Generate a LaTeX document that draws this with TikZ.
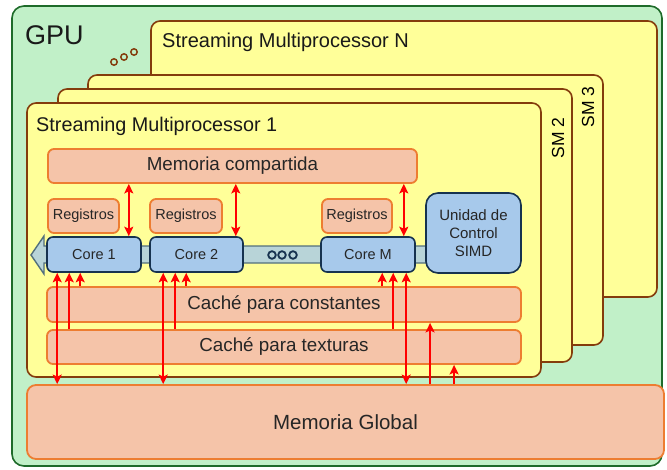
\documentclass[tikz,border=0pt]{standalone}
\usepackage{fontspec}
\setmainfont{Liberation Sans}
\usepackage{tikz}
\usetikzlibrary{arrows.meta,positioning,calc}

\definecolor{gpugreen}{HTML}{C1F0C8}
\definecolor{gpuline}{HTML}{1E6B2A}
\definecolor{smyellow}{HTML}{FFFF99}
\definecolor{smline}{HTML}{843C0C}
\definecolor{memfill}{HTML}{F5C4A9}
\definecolor{memline}{HTML}{ED7D31}
\definecolor{corefill}{HTML}{A7C9EB}
\definecolor{coreline}{HTML}{16324F}
\definecolor{busfill}{HTML}{B8D4D8}
\definecolor{busline}{HTML}{52707C}

\begin{document}
\begin{tikzpicture}[
  x=1pt, y=-1pt,
  gpubox/.style={draw=gpuline, fill=gpugreen, line width=1.6pt, rounded corners=12pt, inner sep=0pt},
  smbox/.style={draw=smline, fill=smyellow, line width=1.6pt, rounded corners=9pt, inner sep=0pt},
  membox/.style={draw=memline, fill=memfill, line width=1.8pt, rounded corners=6pt, inner sep=0pt, text=black!85},
  corebox/.style={draw=coreline, fill=corefill, line width=1.6pt, rounded corners=6pt, inner sep=0pt, text=black!85},
  tip/.tip={Stealth[length=9.5pt, width=9pt, inset=2pt]},
  dbl/.style={tip-tip, red, line width=1.7pt},
  arr/.style={-tip, red, line width=1.7pt},
  lbl/.style={anchor=west, inner sep=0pt, text=black!90}
]
\useasboundingbox (0,0) rectangle (667,469);

% GPU and the stack of multiprocessors
\node[gpubox, minimum width=650pt, minimum height=460pt] (gpu) at (337,236) {};
\node[smbox, minimum width=506pt, minimum height=276pt] (smN) at (404,159) {};
\node[smbox, minimum width=515pt, minimum height=270pt] (sm3) at (345.5,210) {};
\node[smbox, minimum width=514pt, minimum height=273pt] (sm2) at (315,225.5) {};
\node[smbox, minimum width=514pt, minimum height=274pt] (sm1) at (284,240) {};

\node[lbl, font=\fontsize{27}{29}\selectfont] (gpulbl) at (25,35) {GPU};
\node[lbl, font=\fontsize{20}{22}\selectfont] (smNlbl) at (162,42) {Streaming Multiprocessor N};
\node[lbl, font=\fontsize{19.8}{22}\selectfont] (sm1lbl) at (36,126) {Streaming Multiprocessor 1};
\node[rotate=90, inner sep=0pt, font=\fontsize{17.5}{19}\selectfont] (sm2lbl) at (558,138) {SM 2};
\node[rotate=90, inner sep=0pt, font=\fontsize{17.5}{19}\selectfont] (sm3lbl) at (588,107) {SM 3};
\foreach \x/\y in {114/62, 124/57, 134/52}
  \draw[smline, line width=1.5pt] (\x,\y) circle (3.2pt);

% Memories inside SM 1
\node[membox, minimum width=369pt, minimum height=34pt, font=\fontsize{18.8}{20}\selectfont] (compart) at (232.5,166) {Memoria compartida};
\node[membox, minimum width=71pt, minimum height=34pt, font=\fontsize{14.5}{16}\selectfont] (reg1) at (83.5,216) {Registros};
\node[membox, minimum width=72pt, minimum height=34pt, font=\fontsize{14.5}{16}\selectfont] (reg2) at (186,216) {Registros};
\node[membox, minimum width=70pt, minimum height=34pt, font=\fontsize{14.5}{16}\selectfont] (regM) at (357,216) {Registros};

% Bus
\draw[draw=busline, fill=busfill, line width=1.4pt]
  (426,246) -- (44,246) -- (44,236) -- (31,255) -- (44,274) -- (44,263) -- (426,263) -- cycle;

% Cores
\node[corebox, minimum width=94pt, minimum height=35pt, font=\fontsize{14.5}{16}\selectfont] (core1) at (94,254.5) {Core 1};
\node[corebox, minimum width=93pt, minimum height=35pt, font=\fontsize{14.5}{16}\selectfont] (core2) at (196.5,254.5) {Core 2};
\node[corebox, minimum width=94pt, minimum height=35pt, font=\fontsize{14.5}{16}\selectfont] (coreM) at (368,254.5) {Core M};
\node[corebox, rounded corners=12pt, minimum width=95pt, minimum height=80pt, align=center,
      font=\fontsize{15}{18}\selectfont] (simd) at (473.5,233) {Unidad de\\Control\\SIMD};
\foreach \x in {272, 282, 293}
  \draw[coreline, line width=1.8pt] (\x,255) circle (3.8pt);

% Caches and global memory
\node[membox, minimum width=474pt, minimum height=35pt, font=\fontsize{18.8}{20}\selectfont] (constantes) at (284,304.5) {Caché para constantes};
\node[membox, minimum width=474pt, minimum height=34pt, font=\fontsize{18.8}{20}\selectfont] (texturas) at (284,347) {Caché para texturas};
\node[membox, rounded corners=9pt, minimum width=637pt, minimum height=74pt, font=\fontsize{20.5}{22}\selectfont] (glob) at (345.5,422) {Memoria Global};

% Shared memory <-> cores
\foreach \c/\s in {core1/13, core2/8, coreM/12} {
  \coordinate (m) at ([xshift=-\s pt]\c.north east);
  \draw[dbl] (m |- compart.south) -- (m);
}

% Cores <-> global memory and caches
\foreach \c/\g/\t/\k in {core1/11/23/34, core2/14/26/37, coreM/86/73/62} {
  \coordinate (g) at ([xshift=\g pt]\c.south west);
  \coordinate (t) at ([xshift=\t pt]\c.south west);
  \coordinate (k) at ([xshift=\k pt]\c.south west);
  \draw[dbl] (g) -- (g |- glob.north);
  \draw[arr] (t |- texturas.north) -- (t);
  \draw[arr] (k |- constantes.north) -- (k);
}

% Global memory -> caches
\coordinate (u1) at ([xshift=404pt]glob.north west);
\coordinate (u2) at ([xshift=428pt]glob.north west);
\draw[arr] (u1) -- (u1 |- constantes.south);
\draw[arr] (u2) -- (u2 |- texturas.south);

\end{tikzpicture}
\end{document}
